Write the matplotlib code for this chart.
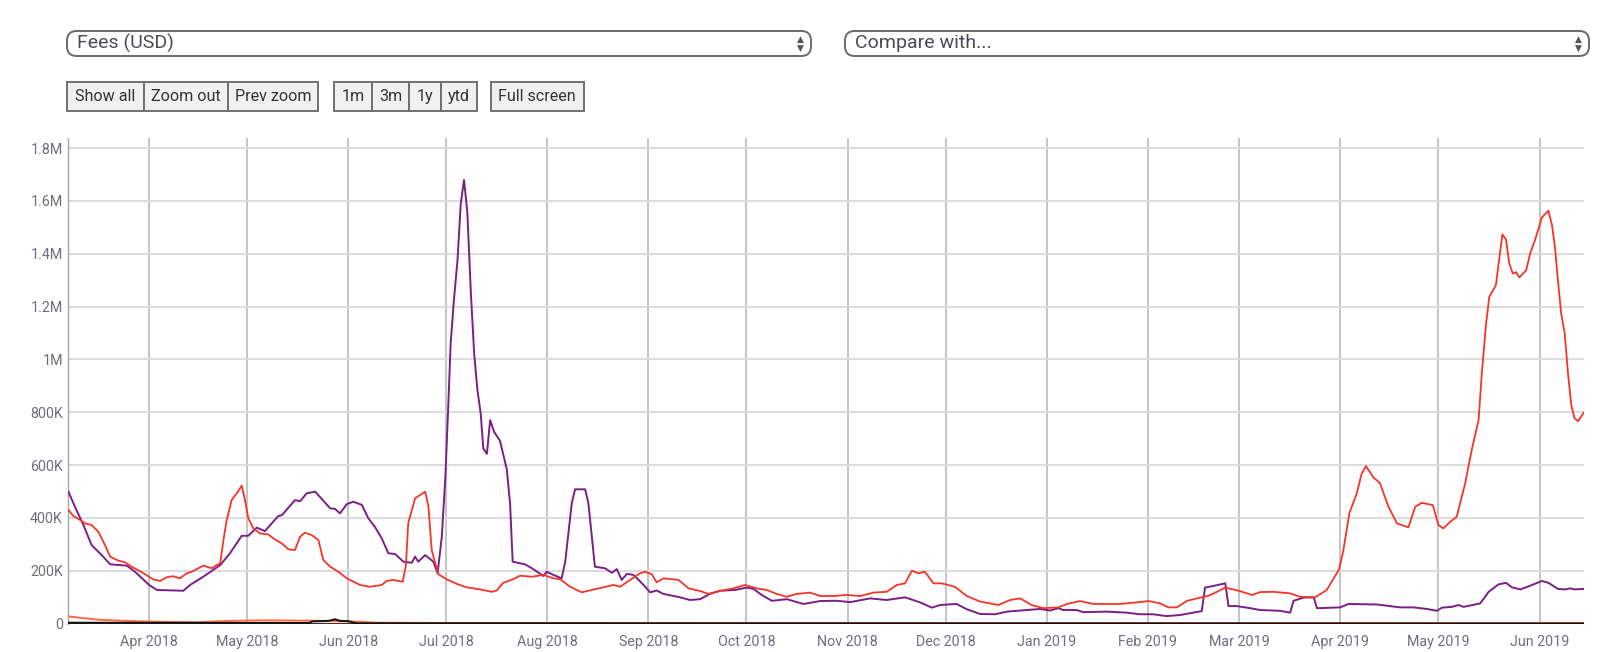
import numpy as np
import pandas as pd
import matplotlib
matplotlib.use("Agg")
import matplotlib.pyplot as plt
import matplotlib.dates as mdates
from matplotlib.patches import FancyBboxPatch, Rectangle
from matplotlib.ticker import FuncFormatter

plt.rcParams['font.family'] = ['Roboto', 'DejaVu Sans']

# x values: days after 2018-04-01, y values: fees in thousands of USD
base = pd.Timestamp("2018-04-01")

purple_day = [-24.7, -22.7, -20.1, -17.6, -14.5, -11.9, -6.8, -4.3, 0, 2.4, 10.5, 12.6, 16.6, 21.8, 24.8,
              28.4, 30.4, 33, 35.5, 39.6, 40.7, 44.7, 46.3, 48.3, 50.9, 55.5, 57, 58.5, 60.6, 62.6, 65.2,
              67.2, 69.2, 71.3, 73.3, 75.4, 77.9, 80.5, 81.5, 82.5, 84.6, 87.1, 88.4, 89.7, 90.8, 91.7,
              92.4, 93.4, 94.5, 95.5, 96.5, 97.5, 98.6, 99.6, 100.6, 101.6, 102.4, 103.5, 104.5, 105.7,
              107.5, 109.6, 110.6, 111.4, 115.2, 117.3, 120.8, 121.8, 123.9, 126.4, 127.5, 129.5, 130.5,
              133.6, 134.6, 136.6, 139.7, 141.8, 143.3, 144.8, 146.4, 148.4, 150.4, 152, 153.5, 155.5,
              157.6, 162.7, 165.7, 168.8, 171.8, 174.9, 179.5, 183.1, 185.2, 187.7, 190.8, 195.4, 200.5,
              205.6, 210.7, 214.8, 220.9, 226, 231.6, 236.2, 239.8, 242.3, 247.4, 250.5, 254.6, 259.2,
              262.8, 268.9, 273, 276, 278.6, 280, 284.2, 286.2, 293.4, 299.5, 303.5, 307.6, 311.7, 315.8,
              319.9, 322.5, 323.5, 326, 329.7, 330.7, 333.2, 337.3, 340.4, 346.5, 349.6, 350.6, 353.7,
              356.8, 357.8, 364.9, 367.5, 376.2, 383.3, 387.4, 391.5, 394.5, 396.1, 399.1, 401.2, 402.7,
              407.8, 410.4, 413.4, 415.7, 417.5, 420.1, 423.1, 426.7, 428.7, 431.6, 433.7, 435.4, 436.7,
              439.5]
purple_val = [499, 442, 373, 297, 259, 224, 219, 196, 146, 127, 124, 146, 177, 221, 266,
              332, 332, 363, 350, 407, 410, 467, 463, 493, 499, 436, 434, 417, 452, 461, 449,
              398, 366, 322, 266, 263, 234, 230, 253, 234, 259, 234, 190, 329, 560, 833,
              1060, 1224, 1376, 1590, 1679, 1559, 1250, 1023, 884, 796, 663, 642, 770, 726,
              692, 584, 455, 234, 224, 209, 180, 196, 184, 171, 234, 455, 508,
              508, 455, 215, 209, 192, 206, 165, 188, 184, 160, 139, 118, 125,
              112, 99, 89, 92, 112, 124, 127, 136, 131, 108, 86, 92, 74,
              85, 86, 81, 95, 89, 99, 80, 60, 70, 74, 54, 36, 35,
              45, 51, 55, 49, 58, 51, 51, 43, 45, 41, 35, 35, 28, 32,
              41, 47, 136, 142, 152, 66, 66, 58, 51, 48, 41, 86, 98,
              99, 58, 61, 74, 72, 61, 61, 55, 48, 60, 63, 70, 63,
              76, 120, 148, 154, 137, 129, 143, 161, 154, 131, 129, 133, 129,
              131]

red_day = [-24.7, -23.2, -21.1, -19.6, -17.6, -15.5, -13.5, -11.9, -9.4, -7.4, -5.3, -2.2, 1.3, 3.4, 5.4,
           7.4, 9.5, 11.5, 13.1, 16.6, 19.2, 20.7, 21.8, 22.8, 23.8, 25.3, 26.9, 28.4, 29.4, 30.4, 32,
           34, 36.6, 38.1, 40.7, 42.7, 44.7, 46.3, 47.8, 49.8, 51.9, 53.4, 55.5, 58, 60.6, 64.6, 67.7,
           71.3, 72.8, 74.8, 76.4, 77.7, 78.7, 79.4, 81.5, 83, 84.6, 85.6, 86.6, 88.6, 91.2, 94.3,
           97.3, 101.4, 105, 106.5, 108.5, 111.6, 113.7, 117.3, 120.8, 123.9, 125.9, 129, 132.6,
           134.6, 139.2, 142.3, 144.3, 147.4, 150.4, 152, 154, 155.5, 157.6, 162.2, 165.3, 168.8,
           171.4, 174.9, 179, 182.6, 186.2, 189.2, 192.3, 195.4, 198.4, 202.5, 205.6, 209.7, 213.8,
           217.9, 221.9, 226, 229.1, 231.6, 233.7, 235.7, 237.7, 240.3, 242.8, 246.9, 250.5, 254.6,
           260.2, 263.8, 266.9, 270.4, 274, 278.6, 281.2, 285.2, 289.3, 297.5, 302.6, 306.2, 309.8,
           312.3, 314.9, 318, 321, 324.6, 327.2, 329.7, 333.8, 337.9, 340.4, 344.5, 349.6, 352.6,
           357.2, 360.8, 364.6, 365.9, 367.7, 370, 371.5, 372.8, 375.1, 377.1, 379.7, 382.3, 385.8,
           387.9, 389.9, 393.3, 395, 396.5, 398.6, 400.6, 403.2, 405.2, 407.3, 408.3, 409.6, 410.6,
           412.6, 413.7, 414.6, 415.7, 416.7, 417.8, 418.8, 419.8, 421.9, 423.1, 424.6, 426.7, 428.7,
           429.8, 430.8, 431.6, 432.6, 433.7, 434.7, 435.7, 436.7, 437.8, 439.5]
red_val = [430, 407, 392, 379, 373, 347, 297, 253, 238, 232, 215, 194, 167, 161, 175,
           179, 171, 190, 196, 219, 209, 221, 227, 316, 392, 467, 493, 522, 467, 398, 360,
           341, 337, 322, 303, 281, 278, 329, 344, 335, 316, 240, 215, 196, 171, 146, 139,
           146, 161, 165, 161, 158, 221, 379, 474, 486, 499, 442, 278, 187, 167, 150,
           137, 129, 120, 125, 154, 168, 181, 177, 184, 171, 168, 139, 118,
           124, 137, 146, 139, 165, 190, 196, 187, 156, 171, 165, 133, 123,
           112, 123, 133, 146, 133, 127, 112, 101, 112, 117, 104, 104, 108,
           104, 117, 120, 146, 152, 200, 190, 196, 152, 152, 139, 104, 83,
           70, 89, 95, 70, 58, 61, 74, 85, 74, 74, 80, 85, 76,
           61, 61, 86, 95, 105, 120, 136, 124, 108, 119, 120, 114, 101,
           99, 127, 206, 278, 417, 493, 568, 596, 553, 531, 442, 379, 364,
           442, 457, 448, 373, 360, 385, 404, 531, 657, 770, 947, 1136, 1237,
           1281, 1388, 1473, 1454, 1363, 1325, 1330, 1310, 1338, 1401, 1452, 1537, 1563,
           1508, 1414, 1300, 1174, 1098, 947, 827, 777, 766, 798]

orange_day = [-24.7, -20, -15, -5, 5, 15, 25, 35, 45, 55, 64, 70, 90, 150, 300, 439.5]
orange_val = [27, 20, 14, 9, 6, 5, 10, 12, 11, 10, 7, 3, 2, 2, 2, 2]

black_day = [-24.7, 45, 49, 50, 53, 55, 57, 58.5, 61, 62.5, 63.5, 439.5]
black_val = [3, 2, 2, 8, 9, 10, 16, 10, 9, 4, 1, 0]

zero_day = [-24.7, 439.5]
zero_val = [0, 0]

months = pd.date_range("2018-04-01", "2019-06-01", freq="MS")
yticks = [0, 200, 400, 600, 800, 1000, 1200, 1400, 1600, 1800]


def to_dates(days):
    return base + pd.to_timedelta(np.array(days), unit="D")


def kfmt(v, pos):
    if v == 0:
        return "0"
    if v < 1000:
        return "%dK" % v
    return "%gM" % (v / 1000.0)


W, H = 1600, 652
fig = plt.figure(figsize=(16, 6.52), dpi=100)

# plot area
ax = fig.add_axes([68.4 / W, (H - 623.5) / H, (1584 - 68.4) / W, (623.5 - 138) / H])
ax.plot(to_dates(zero_day), zero_val, color="#4a2a2a", lw=1.6, zorder=3)
ax.plot(to_dates(orange_day), orange_val, color="#ff6a45", lw=1.4, zorder=3)
ax.plot(to_dates(black_day), black_val, color="#111111", lw=1.4, zorder=3)
ax.plot(to_dates(purple_day), purple_val, color="#7a1f86", lw=1.4, zorder=4)
ax.plot(to_dates(red_day), red_val, color="#f5352a", lw=1.3, zorder=5)

ax.set_xlim(base + pd.Timedelta(days=-24.7), base + pd.Timedelta(days=439.6))
ax.set_ylim(0, 1838)
ax.set_yticks(yticks)
ax.yaxis.set_major_formatter(FuncFormatter(kfmt))
ax.set_xticks(months)
ax.xaxis.set_major_formatter(mdates.DateFormatter("%b %Y"))
ax.tick_params(axis="both", length=0, labelsize=10.3, labelcolor="#6e6e7a")
ax.tick_params(axis="x", pad=8)
ax.tick_params(axis="y", pad=4)
for s in ["top", "right", "bottom"]:
    ax.spines[s].set_visible(False)
ax.spines["left"].set_color("#a8a8a8")
ax.spines["left"].set_linewidth(1.0)
ax.grid(axis="y", color="#dcdcdc", lw=1.4)
ax.grid(axis="x", color="#b4b4b4", lw=1.1)
ax.set_axisbelow(True)


# ---- controls above the chart (figure pixel coords, y from top) ----
def px(x, y):
    return x / W, 1 - y / H


def dropdown(x0, x1, y0, y1, label):
    x, y = px(x0, y1)
    fig.patches.append(FancyBboxPatch((x, y), (x1 - x0) / W, (y1 - y0) / H,
                                      boxstyle="round,pad=0,rounding_size=0.006",
                                      transform=fig.transFigure, fc="white",
                                      ec="#6a6a6a", lw=1.4, mutation_aspect=W / H))
    tx, ty = px(x0 + 10, (y0 + y1) / 2)
    fig.text(tx, ty, label, fontsize=14, color="#4a4a55", va="center", ha="left")
    ax_, ay_ = px(x1 - 11, (y0 + y1) / 2 - 4.5)
    fig.text(ax_, ay_, "\u25b2", fontsize=6.5, color="#555555", ha="center", va="center",
             family="DejaVu Sans")
    ax_, ay_ = px(x1 - 11, (y0 + y1) / 2 + 4.5)
    fig.text(ax_, ay_, "\u25bc", fontsize=6.5, color="#555555", ha="center", va="center",
             family="DejaVu Sans")


dropdown(67, 811, 31, 56, "Fees (USD)")
dropdown(845, 1589, 31, 56, "Compare with...")

buttons = [("Show all", 67.3, 143.9), ("Zoom out", 143.9, 227.6), ("Prev zoom", 227.6, 318.4),
           ("1m", 333.7, 372.4), ("3m", 372.4, 409.2), ("1y", 409.2, 440.8), ("ytd", 440.8, 476.5),
           ("Full screen", 490.8, 583.7)]
for lab, x0, x1 in buttons:
    bx, by = px(x0, 111.2)
    fig.patches.append(Rectangle((bx, by), (x1 - x0) / W, (111.2 - 81.6) / H,
                                 transform=fig.transFigure, fc="#f0f0f0", ec="#707070", lw=1.4))
    tx, ty = px((x0 + x1) / 2, 96.4)
    fig.text(tx, ty, lab, fontsize=11.6, color="#333333", ha="center", va="center")

fig.savefig("out.png", dpi=100)
